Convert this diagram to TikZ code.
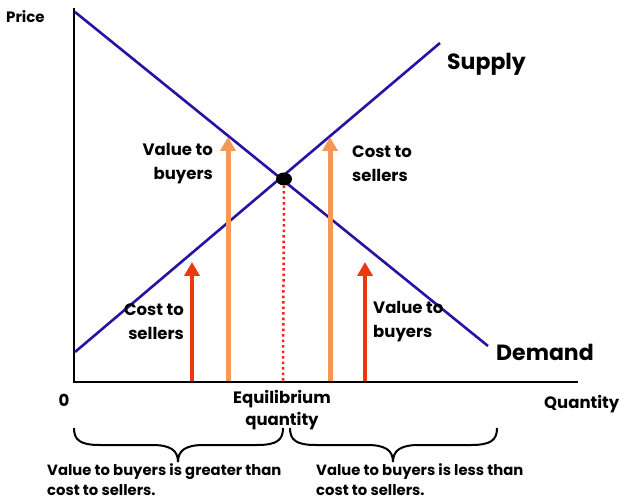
\documentclass[tikz,border=0pt]{standalone}
\usepackage{fontspec}
\setmainfont{Poppins}
\usetikzlibrary{arrows.meta,shapes.geometric}
\definecolor{lineblue}{RGB}{40,18,165}
\definecolor{arrowred}{RGB}{236,56,12}
\definecolor{arroworange}{RGB}{245,152,86}
\definecolor{dotred}{RGB}{250,30,30}
\begin{document}
\begin{tikzpicture}[x=1pt,y=-1pt,
  axis/.style={line width=2.2pt,black},
  curve/.style={line width=2.6pt,lineblue},
  redarrow/.style={line width=4pt,arrowred,-{Triangle[width=15pt,length=14pt]}},
  orangearrow/.style={line width=5pt,arroworange,-{Triangle[width=15pt,length=14pt]}},
  lbl/.style={font=\bfseries\fontsize{16.5}{24}\selectfont,align=left,inner sep=0pt},
  biglbl/.style={font=\bfseries\fontsize{22}{24}\selectfont,inner sep=0pt},
  notelbl/.style={font=\bfseries\fontsize{14.8}{20}\selectfont,align=left,inner sep=0pt},
  bracepath/.style={line width=2pt,black}]
  \useasboundingbox (0,0) rectangle (621,502);

  % axes
  \coordinate (origin) at (74,382);
  \coordinate (ytop) at (74,8);
  \coordinate (xend) at (578,382);
  \draw[axis] (ytop) -- (origin) -- (xend);

  % demand and supply
  \coordinate (d0) at (75,12);
  \coordinate (d1) at (488,346);
  \coordinate (s0) at (75,352);
  \coordinate (s1) at (440,43);
  \draw[curve] (d0) -- (d1);
  \draw[curve] (s0) -- (s1);

  % equilibrium point and quantity
  \coordinate (eqfoot) at (283,381);
  \node[ellipse,fill=black,minimum width=16pt,minimum height=13pt,inner sep=0pt] (eq) at (284,179) {};
  \draw[dotred,line width=2.5pt,dash pattern=on 2.5pt off 3pt] (eq.south) -- (eqfoot);

  % value and cost arrows
  \coordinate (ra1b) at (192,381);  \coordinate (ra1t) at (192,262);
  \coordinate (oa1b) at (228,381);  \coordinate (oa1t) at (228,137);
  \coordinate (oa2b) at (330,381);  \coordinate (oa2t) at (330,137);
  \coordinate (ra2b) at (365,381);  \coordinate (ra2t) at (365,262);
  \draw[redarrow] (ra1b) -- (ra1t);
  \draw[orangearrow] (oa1b) -- (oa1t);
  \draw[orangearrow] (oa2b) -- (oa2t);
  \draw[redarrow] (ra2b) -- (ra2t);

  % labels
  \node[lbl,anchor=west,font=\bfseries\fontsize{15}{18}\selectfont] (price) at (6,17) {Price};
  \node[biglbl,anchor=west] (supply) at (447,64) {Supply};
  \node[biglbl,anchor=west] (demand) at (496,352) {Demand};
  \node[lbl,anchor=east,align=right] (vb1) at (213,164) {Value to\\buyers};
  \node[lbl,anchor=west] (cs1) at (352,164) {Cost to\\sellers};
  \node[lbl,anchor=east,align=right] (cs2) at (184,322) {Cost to\\sellers};
  \node[lbl,anchor=west] (vb2) at (373,322) {Value to\\buyers};
  \node[lbl] (zero) at (64,400) {0};
  \node[lbl,align=center,font=\bfseries\fontsize{16.5}{22}\selectfont] (eqq) at (282,410) {Equilibrium\\quantity};
  \node[lbl,anchor=west] (qty) at (544,404) {Quantity};

  % braces
  \coordinate (lb0) at (74,428);  \coordinate (lbtip) at (178,462);  \coordinate (lb1) at (283,428);
  \coordinate (rb0) at (290,428); \coordinate (rbtip) at (393,462);  \coordinate (rb1) at (497,428);
  \draw[bracepath] (lb0) .. controls (74,440) and (80,445) .. (100,445) -- (152,445)
    .. controls (170,445) and (178,450) .. (lbtip)
    .. controls (178,450) and (186,445) .. (204,445) -- (257,445)
    .. controls (277,445) and (283,440) .. (lb1);
  \draw[bracepath] (rb0) .. controls (290,440) and (296,445) .. (316,445) -- (367,445)
    .. controls (385,445) and (393,450) .. (rbtip)
    .. controls (393,450) and (401,445) .. (419,445) -- (471,445)
    .. controls (491,445) and (497,440) .. (rb1);

  \node[notelbl,anchor=north west] (left) at (47,463) {Value to buyers is greater than\\cost to sellers.};
  \node[notelbl,anchor=north west] (right) at (316,463) {Value to buyers is less than\\cost to sellers.};
\end{tikzpicture}
\end{document}
